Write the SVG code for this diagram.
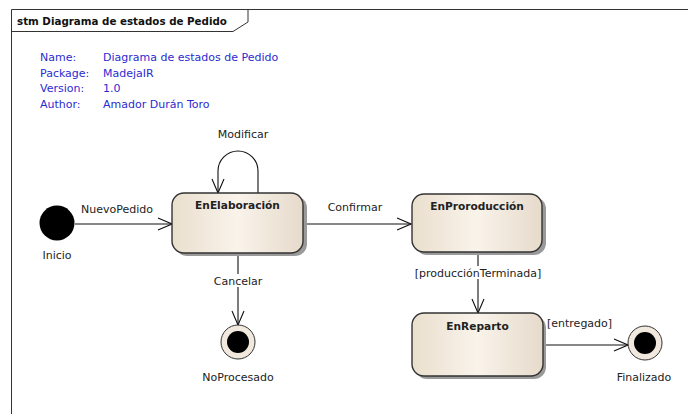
<svg xmlns="http://www.w3.org/2000/svg" width="688" height="414" viewBox="0 0 688 414">
<style>
text{font-family:"DejaVu Sans","Liberation Sans",sans-serif;font-size:11px;fill:#222}
.meta{fill:#2b2bd0}
.title{font-weight:bold;font-size:10.3px;fill:#111}
.st{font-weight:bold;font-size:10.6px;fill:#222}
.box{fill:url(#g);stroke:#333;stroke-width:1.4}
.sh{fill:#9a9a9a}
.ln{fill:none;stroke:#111;stroke-width:1.1}
.fin{fill:#f1e9de;stroke:#333;stroke-width:1}
.lbg{fill:#fff}
</style>
<defs>
<linearGradient id="g" x1="0" y1="0" x2="1" y2="0">
<stop offset="0" stop-color="#eadfce"/>
<stop offset="0.5" stop-color="#f9f3ea"/>
<stop offset="1" stop-color="#e6dacb"/>
</linearGradient>
<marker id="a" markerWidth="16" markerHeight="14" refX="15" refY="7" orient="auto" markerUnits="userSpaceOnUse">
<path d="M1,1 L15,7 L1,13" fill="none" stroke="#111" stroke-width="1.1"/>
</marker>
</defs>
<rect width="688" height="414" fill="#fff"/>
<g id="frame">
<path d="M11.5,414 V9.5 H688" fill="none" stroke="#333" stroke-width="1"/>
<path d="M11.5,31.5 H233 L248,22 V9.5" fill="none" stroke="#333" stroke-width="1"/>
<text x="17" y="25" class="title">stm Diagrama de estados de Pedido</text>
</g>
<g id="info">
<text x="40" y="61" class="meta">Name:</text>
<text x="103" y="61" class="meta">Diagrama de estados de Pedido</text>
<text x="40" y="77" class="meta">Package:</text>
<text x="103" y="77" class="meta">MadejaIR</text>
<text x="40" y="92" class="meta">Version:</text>
<text x="103" y="92" class="meta">1.0</text>
<text x="40" y="108" class="meta">Author:</text>
<text x="103" y="108" class="meta">Amador Durán Toro</text>
</g>
<g id="connectors">
<path class="ln" d="M75,224 H172" marker-end="url(#a)"/>
<text x="81" y="213">NuevoPedido</text>
<path class="ln" d="M258,193 V171 A20,20 0 0 0 218,171 V193" marker-end="url(#a)"/>
<text x="243" y="138" text-anchor="middle">Modificar</text>
<path class="ln" d="M304,224 H411" marker-end="url(#a)"/>
<text x="355" y="211" text-anchor="middle">Confirmar</text>
<path class="ln" d="M238,253 V325" marker-end="url(#a)"/>
<rect class="lbg" x="208" y="274" width="60" height="13"/>
<text x="238" y="285" text-anchor="middle">Cancelar</text>
<path class="ln" d="M478,252 V313" marker-end="url(#a)"/>
<rect class="lbg" x="410" y="266" width="136" height="13"/>
<text x="478" y="277" text-anchor="middle">[producciónTerminada]</text>
<path class="ln" d="M543,345 H628" marker-end="url(#a)"/>
<text x="547" y="327">[entregado]</text>
</g>
<g id="Inicio">
<circle cx="57" cy="223" r="17.5" fill="#000"/>
<text x="57" y="259" text-anchor="middle">Inicio</text>
</g>
<g id="EnElaboracion">
<rect class="sh" x="175" y="196" width="132" height="60" rx="12"/>
<rect class="box" x="172" y="193" width="131" height="60" rx="12"/>
<text x="237.5" y="209" text-anchor="middle" class="st">EnElaboración</text>
</g>
<g id="EnProroduccion">
<rect class="sh" x="415" y="197" width="131" height="58" rx="12"/>
<rect class="box" x="412" y="194" width="130" height="58" rx="12"/>
<text x="477" y="210" text-anchor="middle" class="st">EnProroducción</text>
</g>
<g id="EnReparto">
<rect class="sh" x="415" y="316" width="131" height="63" rx="12"/>
<rect class="box" x="412" y="313" width="131" height="63" rx="12"/>
<text x="477.5" y="330" text-anchor="middle" class="st">EnReparto</text>
</g>
<g id="NoProcesado">
<circle class="fin" cx="238" cy="342" r="17"/>
<circle cx="238" cy="342" r="11" fill="#000"/>
<text x="238" y="381" text-anchor="middle">NoProcesado</text>
</g>
<g id="Finalizado">
<circle class="fin" cx="645" cy="343" r="17"/>
<circle cx="645" cy="343" r="11" fill="#000"/>
<text x="644" y="381" text-anchor="middle">Finalizado</text>
</g>
</svg>
